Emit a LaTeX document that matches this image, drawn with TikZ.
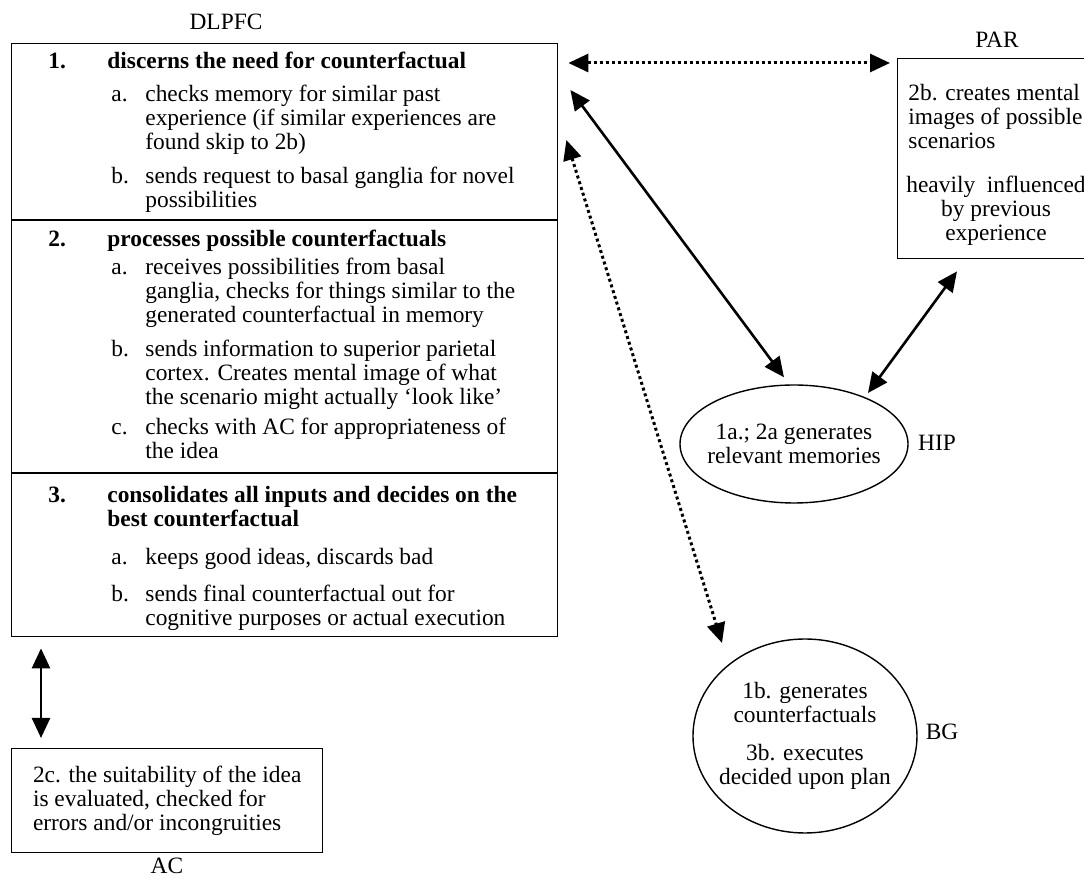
\documentclass[tikz,border=0pt]{standalone}
\usepackage{fontspec}
\setmainfont{Liberation Serif}
\usetikzlibrary{arrows.meta,shapes.geometric,calc}
\begin{document}
\begin{tikzpicture}[x=0.5pt,y=-0.5pt,font=\fontsize{11.7}{12}\selectfont]
 \tikzstyle{region} = [draw, line width=0.7pt, inner sep=0pt];
 \tikzstyle{oval} = [region, ellipse, inner sep=-8pt, align=center];
 \tikzstyle{txt} = [inner sep=0pt, anchor=north west, align=left];
 \tikzstyle{itemlabel} = [txt, text height=8.2pt];
 \tikzstyle{flow} = [{Triangle[length=10pt,width=9pt]}-{Triangle[length=10pt,width=9pt]}, line width=1.3pt];
 \tikzstyle{dotflow} = [flow, line width=1.5pt, dash pattern=on 1.5pt off 1.5pt];
\useasboundingbox (0,0) rectangle (1084,881);
\clip (0,0) rectangle (1084,881);

\node [region, anchor=north west, minimum width=273pt, minimum height=296.5pt] (dl) at (11,43) {};
\node (dlname) at (226,22) {DLPFC};
\draw [line width=0.7pt] (dl.west |- 0,220) -- (dl.east |- 0,220);
\draw [line width=0.7pt] (dl.west |- 0,473) -- (dl.east |- 0,473);

\node [itemlabel] (n1) at (48,52) {\textbf{1.}};
\node [txt] (h1) at (107,52) {\textbf{discerns the need for counterfactual}};
\node [itemlabel] (l1a) at (111,85) {a.};
\node [txt] (t1a) at (145,85) {checks memory for similar past\\experience (if similar experiences are\\found skip to 2b)};
\node [itemlabel] (l1b) at (111,167) {b.};
\node [txt] (t1b) at (145,167) {sends request to basal ganglia for novel\\possibilities};

\node [itemlabel] (n2) at (48,230) {\textbf{2.}};
\node [txt] (h2) at (107,230) {\textbf{processes possible counterfactuals}};
\node [itemlabel] (l2a) at (111,258) {a.};
\node [txt] (t2a) at (145,258) {receives possibilities from basal\\ganglia, checks for things similar to the\\generated counterfactual in memory};
\node [itemlabel] (l2b) at (111,340) {b.};
\node [txt] (t2b) at (145,340) {sends information to superior parietal\\cortex. Creates mental image of what\\the scenario might actually `look like'};
\node [itemlabel] (l2c) at (111,418) {c.};
\node [txt] (t2c) at (145,418) {checks with AC for appropriateness of\\the idea};

\node [itemlabel] (n3) at (48,486) {\textbf{3.}};
\node [txt] (h3) at (107,486) {\textbf{consolidates all inputs and decides on the}\\\textbf{best counterfactual}};
\node [itemlabel] (l3a) at (111,548) {a.};
\node [txt] (t3a) at (145,548) {keeps good ideas, discards bad};
\node [itemlabel] (l3b) at (111,585) {b.};
\node [txt] (t3b) at (145,585) {sends final counterfactual out for\\cognitive purposes or actual execution};

\node [region, anchor=north west, minimum width=100pt, minimum height=100pt] (par) at (897,58) {};
\node (parname) at (997,40) {PAR};
\node [txt] (par1) at (908,84) {2b. creates mental\\images of possible\\scenarios};
\node [txt, anchor=north, align=center] (par2) at (996,176) {heavily\ \ influenced\\by previous\\experience};

\node [oval, minimum width=114pt, minimum height=59pt] (hip) at (794,444) {1a.; 2a generates\\relevant memories};
\node (hipname) at (937,443) {HIP};

\node [oval, minimum width=112pt, minimum height=97pt] (bg) at (805,736) {1b. generates\\counterfactuals\\[7pt]3b. executes\\decided upon plan};
\node (bgname) at (942,732) {BG};

\node [region, anchor=north west, minimum width=155.5pt, minimum height=52pt, align=left] (ac) at (11,748) {2c. the suitability of the idea\\is evaluated, checked for\\errors and/or incongruities};
\node (acname) at (167,866) {AC};

\draw [dotflow] ($(dl.north east)+(10,20)$) -- ($(par.north west)+(-7,5)$);
\draw [flow] ($(dl.north east)+(12,47)$) -- ($(hip.north)+(-10,-7)$);
\draw [dotflow] ($(dl.north east)+(8,97)$) -- ($(bg.center)+(-83,-93)$);
\draw [flow] ($(par.south west)+(60,12)$) -- ($(hip.center)+(74,-51)$);
\draw [flow] ($(dl.south west)+(30,11)$) -- ($(ac.north west)+(30,-10)$);

\end{tikzpicture}
\end{document}
